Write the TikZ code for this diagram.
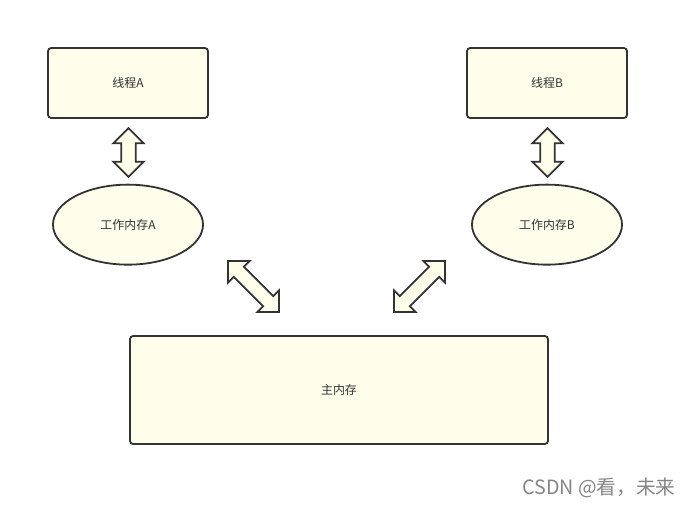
\documentclass[tikz,border=0pt]{standalone}
\usepackage{fontspec}
\newfontfamily\cjk{Noto Sans CJK SC}
\usetikzlibrary{positioning,shapes.geometric}
\definecolor{memfill}{RGB}{254,254,235}
\definecolor{memline}{RGB}{51,51,51}

% block arrow with two heads: centre, angle, half length
\newcommand{\biarrow}[3]{%
  \draw[blockarr,shift={(#1)},rotate=#2]
    (-#3,0) -- (-#3+0.38cm,0.38cm) -- (-#3+0.38cm,0.18cm) -- (#3-0.38cm,0.18cm)
    -- (#3-0.38cm,0.38cm) -- (#3,0) -- (#3-0.38cm,-0.38cm) -- (#3-0.38cm,-0.18cm)
    -- (-#3+0.38cm,-0.18cm) -- (-#3+0.38cm,-0.38cm) -- cycle;}

\begin{document}
\begin{tikzpicture}[x=0.025cm,y=-0.025cm,line width=0.045cm,
    every node/.style={font=\cjk\fontsize{8.5}{10}\selectfont,text=black!80},
    thread/.style={draw=memline,fill=memfill,rounded corners=0.08cm,minimum width=4cm,minimum height=1.75cm},
    work/.style={ellipse,draw=memline,fill=memfill,inner sep=0pt,minimum width=3.75cm,minimum height=2cm},
    blockarr/.style={draw=memline,fill=memfill,line join=miter}]
    \useasboundingbox (0,0) rectangle (689,507);

    \node[thread] (tA) at (128,83)  {线程A};
    \node[thread] (tB) at (547,83)  {线程B};
    \node[work]   (wA) [below=1.62cm of tA] {工作内存A};
    \node[work]   (wB) [below=1.62cm of tB] {工作内存B};
    \node[thread,minimum width=10.45cm,minimum height=2.7cm] (M) at (339,390) {主内存};

    \coordinate (aA) at (128.5,152.5);
    \coordinate (aB) at (547.5,152.5);
    \coordinate (mA) at (253.5,286.5);
    \coordinate (mB) at (419.5,286.5);

    \biarrow{aA}{90}{0.61cm}
    \biarrow{aB}{90}{0.61cm}
    \biarrow{mA}{-45}{0.9cm}
    \biarrow{mB}{45}{0.9cm}

    \node[font=\cjk\fontsize{14}{16}\selectfont,text=black!48] (wm) at (599,488) {CSDN @看，未来};
\end{tikzpicture}
\end{document}
